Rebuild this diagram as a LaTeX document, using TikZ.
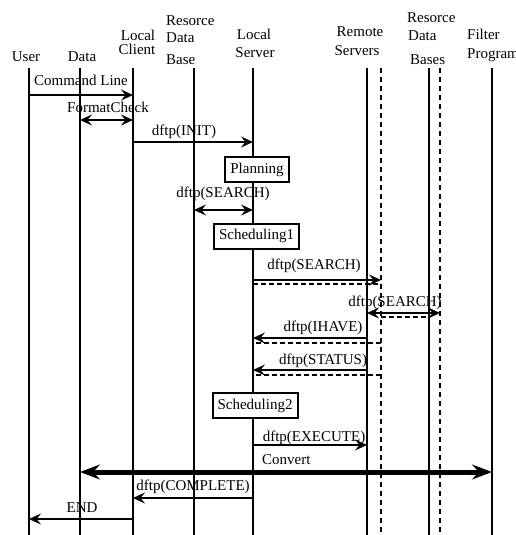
\documentclass[tikz,border=0pt]{standalone}
\usepackage{fontspec}
\setmainfont{Liberation Serif}
\usetikzlibrary{arrows.meta}
\begin{document}
\begin{tikzpicture}[x=1pt,y=-1pt,
  font=\fontsize{15}{15}\selectfont,
  life/.style={line width=1.8pt},
  lifedash/.style={line width=1.8pt, dash pattern=on 5pt off 4pt},
  tip/.tip={Stealth[length=12pt,width=11pt,inset=4.5pt]},
  bigtip/.tip={Stealth[length=20pt,width=15pt,inset=7pt]},
  msg/.style={line width=1.8pt, -tip},
  msgboth/.style={line width=1.8pt, tip-tip},
  reply/.style={line width=1.8pt, dash pattern=on 5pt off 3pt},
  thickmsg/.style={line width=5pt, bigtip-bigtip},
  lbl/.style={inner sep=0pt, anchor=base},
  hdr/.style={inner sep=0pt, anchor=base},
  act/.style={draw, line width=2pt, fill=white, inner xsep=5pt, inner ysep=0pt,
              minimum height=25pt}
]
\useasboundingbox (0,0) rectangle (516,535);

% ---- column headings ----
\node[hdr] (hUser) at (26,62) {User};
\node[hdr] (hData) at (82,62) {Data};
\node[hdr] (hLc1) at (138,41) {Local};
\node[hdr] (hLc2) at (137,55) {Client};
\node[hdr, anchor=base west] (hRdb1) at (166,26) {Resorce};
\node[hdr, anchor=base west] (hRdb2) at (166,43) {Data};
\node[hdr, anchor=base west] (hRdb3) at (166,65) {Base};
\node[hdr] (hLs1) at (254,40) {Local};
\node[hdr] (hLs2) at (255,58) {Server};
\node[hdr] (hRs1) at (360,37) {Remote};
\node[hdr] (hRs2) at (357,56) {Servers};
\node[hdr, anchor=base west] (hRd1) at (407,23) {Resorce};
\node[hdr, anchor=base west] (hRd2) at (408,41) {Data};
\node[hdr, anchor=base west] (hRd3) at (410,64) {Bases};
\node[hdr, anchor=base west] (hFp1) at (467,40) {Filter};
\node[hdr, anchor=base west] (hFp2) at (467,59) {Program};

% ---- lifelines ----
\coordinate (user)    at (29,68);   \coordinate (userE)    at (29,535);
\coordinate (data)    at (80,68);   \coordinate (dataE)    at (80,535);
\coordinate (lclient) at (133,68);  \coordinate (lclientE) at (133,535);
\coordinate (rdb)     at (194,68);  \coordinate (rdbE)     at (194,535);
\coordinate (lserver) at (253,68);  \coordinate (lserverE) at (253,535);
\coordinate (rs)      at (367,68);  \coordinate (rsE)      at (367,535);
\coordinate (rsd)     at (381,68);  \coordinate (rsdE)     at (381,535);
\coordinate (rdbs)    at (429,68);  \coordinate (rdbsE)    at (429,535);
\coordinate (rdbsd)   at (440,68);  \coordinate (rdbsdE)   at (440,535);
\coordinate (filter)  at (492,68);  \coordinate (filterE)  at (492,535);

\draw[life] (user) -- (userE);
\draw[life] (data) -- (dataE);
\draw[life] (lclient) -- (lclientE);
\draw[life] (rdb) -- (rdbE);
\draw[life] (lserver) -- (lserverE);
\draw[life] (rs) -- (rsE);
\draw[lifedash] (rsd) -- (rsdE);
\draw[life] (rdbs) -- (rdbsE);
\draw[lifedash] (rdbsd) -- (rdbsdE);
\draw[life] (filter) -- (filterE);

% ---- message rows ----
\coordinate (m1) at (0,95);
\coordinate (m2) at (0,120);
\coordinate (m3) at (0,142);
\coordinate (m4) at (0,210);
\coordinate (m5) at (0,280);   \coordinate (m5d) at (0,284);
\coordinate (m6) at (0,313);   \coordinate (m6d) at (0,317);
\coordinate (m7) at (0,338);   \coordinate (m7d) at (0,343);
\coordinate (m8) at (0,370);   \coordinate (m8d) at (0,375);
\coordinate (m9) at (0,445);
\coordinate (m10) at (0,472);
\coordinate (m11) at (0,498);
\coordinate (m12) at (0,519);

% ---- activity boxes ----
\node[act] (plan)  at (257,169.5) {Planning};
\node[act] (sch1)  at (256.5,236) {Scheduling1};
\node[act] (sch2)  at (255,405.5) {Scheduling2};

% ---- messages ----
\draw[msg] (user |- m1) -- (lclient |- m1);
\node[lbl] (l1) at (81,85) {Command Line};

\draw[msgboth] (data |- m2) -- (lclient |- m2);
\node[lbl] (l2) at (108,112) {FormatCheck};

\draw[msg] (lclient |- m3) -- (lserver |- m3);
\node[lbl] (l3) at (184,135) {dftp(INIT)};

\draw[msgboth] (rdb |- m4) -- (lserver |- m4);
\node[lbl] (l4) at (223,197) {dftp(SEARCH)};

\draw[msg] (lserver |- m5) -- (rsd |- m5);
\draw[reply] (lserver |- m5d) -- (rsd |- m5d);
\node[lbl] (l5) at (314,269) {dftp(SEARCH)};

\draw[msgboth] (rs |- m6) -- (rdbsd |- m6);
\draw[reply] (rsd |- m6d) -- (rdbs |- m6d);
\node[lbl] (l6) at (395,306) {dftp(SEARCH)};

\draw[msg] (rs |- m7) -- (lserver |- m7);
\draw[reply] (rsd |- m7d) -- (lserver |- m7d);
\node[lbl] (l7) at (323,331) {dftp(IHAVE)};

\draw[msg] (rs |- m8) -- (lserver |- m8);
\draw[reply] (rsd |- m8d) -- (lserver |- m8d);
\node[lbl] (l8) at (323,364) {dftp(STATUS)};

\draw[msg] (lserver |- m9) -- (rs |- m9);
\node[lbl] (l9) at (314,441) {dftp(EXECUTE)};

\draw[thickmsg] (data |- m10) -- (filter |- m10);
\node[lbl, anchor=base west] (l10) at (262,464) {Convert};

\draw[msg] (lserver |- m11) -- (lclient |- m11);
\node[lbl] (l11) at (193,490) {dftp(COMPLETE)};

\draw[msg] (lclient |- m12) -- (user |- m12);
\node[lbl] (l12) at (82,512) {END};
\end{tikzpicture}
\end{document}
